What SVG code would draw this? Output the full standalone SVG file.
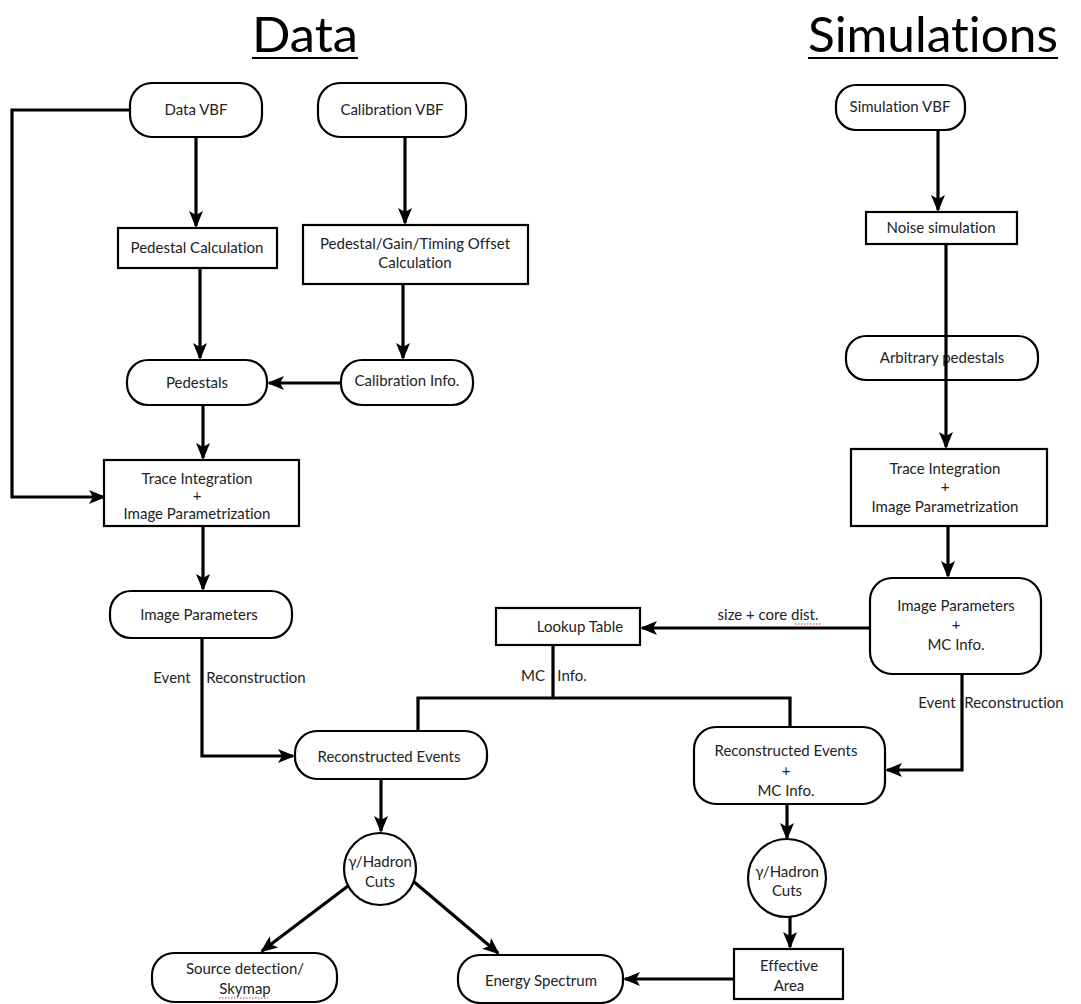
<svg xmlns="http://www.w3.org/2000/svg" width="1081" height="1004" viewBox="0 0 1081 1004">
<defs>
<marker id="ah" markerUnits="userSpaceOnUse" markerWidth="18" markerHeight="18" refX="15" refY="9" orient="auto">
<path d="M0,2 L17,9 L0,16 L4,9 z" fill="#000"/>
</marker>
<style>
.n{fill:#fff;stroke:#000;stroke-width:2.2}
.t{font-family:Lato,"Open Sans",sans-serif;font-size:15px;fill:#222;text-anchor:middle;font-variant-ligatures:none}
.h{font-family:Lato,"Open Sans",sans-serif;font-size:48px;fill:#000;text-anchor:middle;font-variant-ligatures:none}
.c{fill:none;stroke:#000;stroke-width:3.2}
.a{marker-end:url(#ah)}
.sp{stroke:#e03030;stroke-width:1.2;stroke-dasharray:1.5 1.5;fill:none}
</style>
</defs>
<rect width="1081" height="1004" fill="#fff"/>

<g id="titles">
<text class="h" x="305" y="52" textLength="106" lengthAdjust="spacingAndGlyphs">Data</text>
<line x1="252" y1="58" x2="358" y2="58" stroke="#000" stroke-width="2.2"/>
<text class="h" x="933" y="52" textLength="250" lengthAdjust="spacingAndGlyphs">Simulations</text>
<line x1="808" y1="58" x2="1058" y2="58" stroke="#000" stroke-width="2.2"/>
</g>

<g id="connectors">
<path class="c a" d="M130,110 H12 V497 H104"/>
<path class="c a" d="M196,137 V226"/>
<path class="c a" d="M405,137 V223"/>
<path class="c a" d="M200,268 V358"/>
<path class="c a" d="M403,284 V358"/>
<path class="c a" d="M341,383 H269"/>
<path class="c a" d="M203,405 V458"/>
<path class="c a" d="M203,526 V589"/>
<path class="c a" d="M202,638 V756 H293"/>
<path class="c a" d="M938,130 V210"/>
<path class="c a" d="M948,526 V576"/>
<path class="c a" d="M870,628 H642"/>
<path class="c a" d="M962,674 V770 H887"/>
<path class="c" d="M553,645 V698 M418,731 V698 H790 V727"/>
<path class="c a" d="M381,779 V831"/>
<path class="c a" d="M348,886 L262,951"/>
<path class="c a" d="M413,881 L498,953"/>
<path class="c a" d="M787,804 V838"/>
<path class="c a" d="M790,917 V947"/>
<path class="c a" d="M734,979 H625"/>
</g>

<g id="data-vbf"><rect class="n" x="130" y="83" width="132" height="54" rx="22"/><text class="t" x="196" y="115">Data VBF</text></g>
<g id="calibration-vbf"><rect class="n" x="318" y="83" width="148" height="54" rx="22"/><text class="t" x="392" y="115">Calibration VBF</text></g>
<g id="simulation-vbf"><rect class="n" x="836" y="85" width="129" height="45" rx="20"/><text class="t" x="900" y="112">Simulation VBF</text></g>
<g id="pedestal-calculation"><rect class="n" x="118" y="228" width="159" height="40"/><text class="t" x="197" y="253">Pedestal Calculation</text></g>
<g id="pedestal-gain-timing"><rect class="n" x="303" y="225" width="225" height="59"/><text class="t" x="415" y="249">Pedestal/Gain/Timing Offset</text><text class="t" x="415" y="268">Calculation</text></g>
<g id="noise-simulation"><rect class="n" x="866" y="212" width="151" height="32"/><text class="t" x="941" y="233">Noise simulation</text></g>
<g id="arbitrary-pedestals"><rect class="n" x="846" y="336" width="192" height="44" rx="20"/><text class="t" x="942" y="363">Arbitrary pedestals</text></g>
<g id="pedestals"><rect class="n" x="127" y="360" width="140" height="45" rx="21"/><text class="t" x="197" y="388">Pedestals</text></g>
<g id="calibration-info"><rect class="n" x="341" y="360" width="132" height="45" rx="21"/><text class="t" x="407" y="386">Calibration Info.</text></g>
<g id="trace-integration-data"><rect class="n" x="104" y="460" width="195" height="66"/><text class="t" x="197" y="484">Trace Integration</text><text class="t" x="197" y="501">+</text><text class="t" x="197" y="519">Image Parametrization</text></g>
<g id="trace-integration-sim"><rect class="n" x="851" y="449" width="196" height="77"/><text class="t" x="945" y="474">Trace Integration</text><text class="t" x="945" y="492">+</text><text class="t" x="945" y="512">Image Parametrization</text></g>
<g id="image-parameters"><rect class="n" x="110" y="591" width="182" height="47" rx="21"/><text class="t" x="199" y="620">Image Parameters</text></g>
<g id="lookup-table"><rect class="n" x="496" y="608" width="144" height="37"/><text class="t" x="580" y="632">Lookup Table</text></g>
<g id="image-parameters-mc"><rect class="n" x="870" y="578" width="171" height="96" rx="22"/><text class="t" x="956" y="611">Image Parameters</text><text class="t" x="956" y="630">+</text><text class="t" x="956" y="650">MC Info.</text></g>
<g id="reconstructed-events"><rect class="n" x="295" y="731" width="192" height="48" rx="22"/><text class="t" x="389" y="762">Reconstructed Events</text></g>
<g id="reconstructed-events-mc"><rect class="n" x="694" y="727" width="191" height="77" rx="22"/><text class="t" x="786" y="756">Reconstructed Events</text><text class="t" x="786" y="776">+</text><text class="t" x="786" y="796">MC Info.</text></g>
<g id="cuts-data"><circle class="n" cx="380" cy="869" r="36"/><text class="t" x="380" y="867">γ/Hadron</text><text class="t" x="380" y="887">Cuts</text></g>
<g id="cuts-sim"><circle class="n" cx="787" cy="878" r="39"/><text class="t" x="787" y="877">γ/Hadron</text><text class="t" x="787" y="896">Cuts</text></g>
<g id="source-detection"><rect class="n" x="152" y="953" width="185" height="49" rx="22"/><text class="t" x="245" y="974">Source detection/</text><text class="t" x="245" y="994">Skymap</text><path class="sp" d="M219,998 H268"/></g>
<g id="energy-spectrum"><rect class="n" x="458" y="955" width="165" height="48" rx="22"/><text class="t" x="541" y="986">Energy Spectrum</text></g>
<g id="effective-area"><rect class="n" x="734" y="949" width="109" height="50"/><text class="t" x="789" y="971">Effective</text><text class="t" x="789" y="991">Area</text></g>

<g id="edge-labels">
<text class="t" x="172" y="683">Event</text>
<text class="t" x="256" y="683">Reconstruction</text>
<text class="t" x="768" y="620">size + core dist.</text>
<path class="sp" d="M795,624 H821"/>
<text class="t" x="533" y="681">MC</text>
<text class="t" x="572" y="681">Info.</text>
<text class="t" x="937" y="708">Event</text>
<text class="t" x="1014" y="708">Reconstruction</text>
</g>
<path class="c a" d="M946,244 V447"/>
</svg>
